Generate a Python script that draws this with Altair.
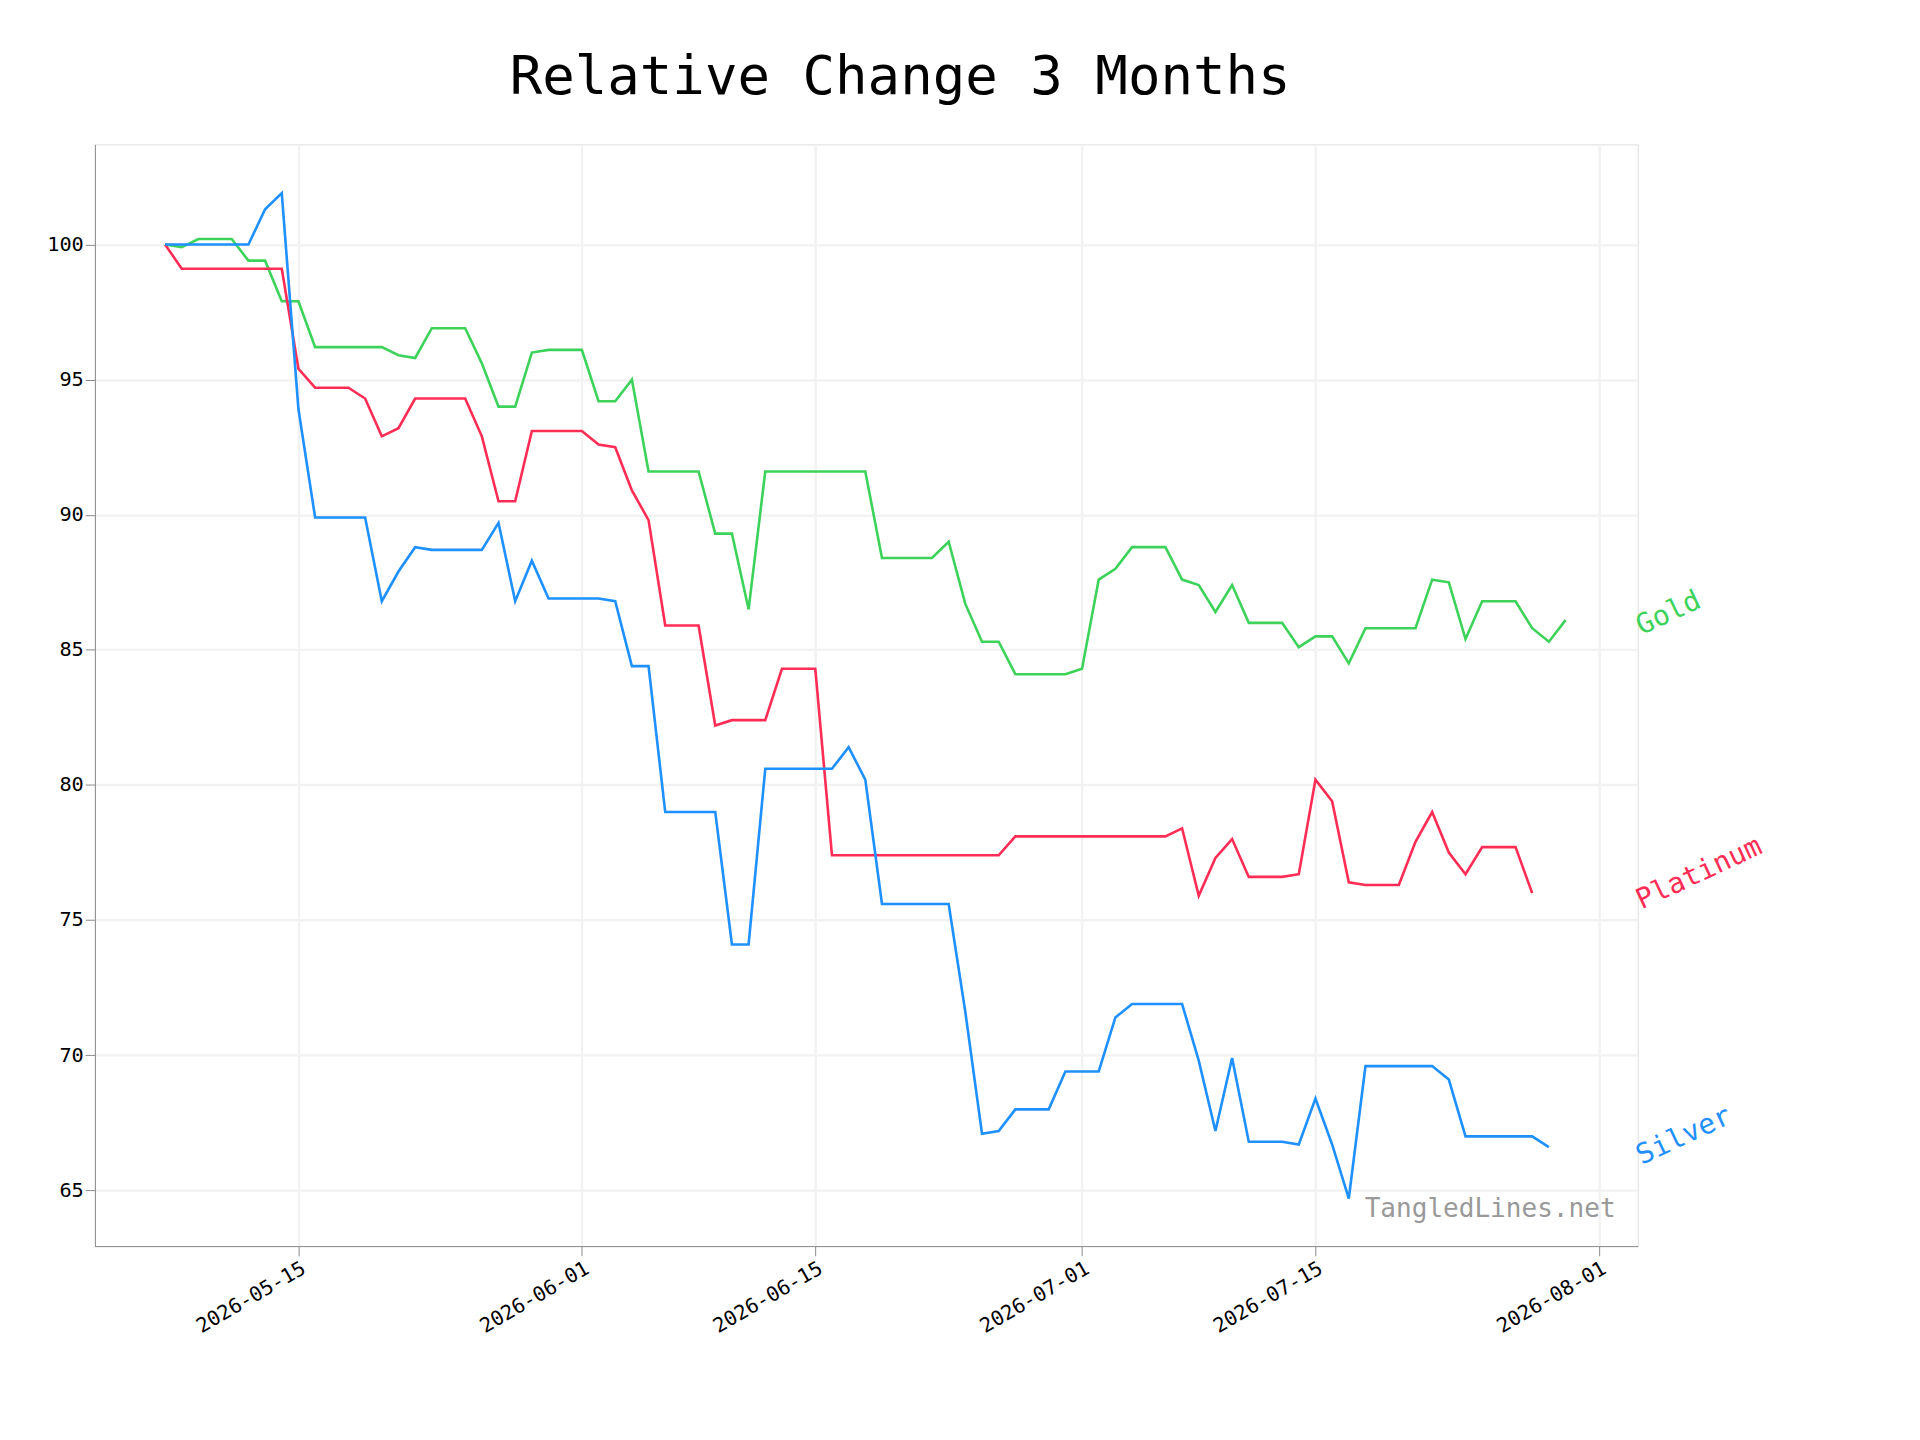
import altair as alt
import pandas as pd

gold = [100,99.9,100.2,100.2,100.2,99.4,99.4,97.9,97.9,96.2,96.2,96.2,96.2,96.2,95.9,95.8,96.9,96.9,96.9,95.6,94.0,94.0,96.0,96.1,96.1,96.1,94.2,94.2,95.0,91.6,91.6,91.6,91.6,89.3,89.3,86.5,91.6,91.6,91.6,91.6,91.6,91.6,91.6,88.4,88.4,88.4,88.4,89.0,86.7,85.3,85.3,84.1,84.1,84.1,84.1,84.3,87.6,88.0,88.8,88.8,88.8,87.6,87.4,86.4,87.4,86.0,86.0,86.0,85.1,85.5,85.5,84.5,85.8,85.8,85.8,85.8,87.6,87.5,85.4,86.8,86.8,86.8,85.8,85.3,86.1]
platinum = [100,99.1,99.1,99.1,99.1,99.1,99.1,99.1,95.4,94.7,94.7,94.7,94.3,92.9,93.2,94.3,94.3,94.3,94.3,92.9,90.5,90.5,93.1,93.1,93.1,93.1,92.6,92.5,90.9,89.8,85.9,85.9,85.9,82.2,82.4,82.4,82.4,84.3,84.3,84.3,77.4,77.4,77.4,77.4,77.4,77.4,77.4,77.4,77.4,77.4,77.4,78.1,78.1,78.1,78.1,78.1,78.1,78.1,78.1,78.1,78.1,78.4,75.9,77.3,78.0,76.6,76.6,76.6,76.7,80.2,79.4,76.4,76.3,76.3,76.3,77.9,79.0,77.5,76.7,77.7,77.7,77.7,76.0]
silver = [100,100,100,100,100,100,101.3,101.9,93.9,89.9,89.9,89.9,89.9,86.8,87.9,88.8,88.7,88.7,88.7,88.7,89.7,86.8,88.3,86.9,86.9,86.9,86.9,86.8,84.4,84.4,79.0,79.0,79.0,79.0,74.1,74.1,80.6,80.6,80.6,80.6,80.6,81.4,80.2,75.6,75.6,75.6,75.6,75.6,71.6,67.1,67.2,68.0,68.0,68.0,69.4,69.4,69.4,71.4,71.9,71.9,71.9,71.9,69.8,67.2,69.9,66.8,66.8,66.8,66.7,68.4,66.7,64.7,69.6,69.6,69.6,69.6,69.6,69.1,67.0,67.0,67.0,67.0,67.0,66.6]

series = {"Gold": gold, "Platinum": platinum, "Silver": silver}
colors = {"Gold": "#3dd35a", "Platinum": "#ff2d55", "Silver": "#1e90ff"}
label_y = {"Gold": 85.35, "Platinum": 75.2, "Silver": 65.75}

rows = []
for name, vals in series.items():
    dates = pd.date_range("2026-05-07", periods=len(vals), freq="D")
    for d, v in zip(dates, vals):
        rows.append({"date": d.strftime("%Y-%m-%d"), "value": v, "metal": name})
df = pd.DataFrame(rows)
lab = pd.DataFrame([{"date": "2026-08-03T17:00:00", "value": label_y[k], "metal": k} for k in series])
wm = pd.DataFrame([{"date": "2026-08-02T00:00:00", "value": 63.8, "t": "TangledLines.net"}])

font = "DejaVu Sans Mono"
xsc = alt.Scale(type="utc", domain=["2026-05-02T19:00:00", "2026-08-03T08:00:00"])
ysc = alt.Scale(domain=[62.94, 103.7], nice=False, zero=False)
cs = alt.Scale(domain=list(colors), range=list(colors.values()))

lines = alt.Chart(df).mark_line(strokeWidth=2.7, clip=True).encode(
    x=alt.X("date:T", scale=xsc, title=None,
            axis=alt.Axis(format="%Y-%m-%d", values=["2026-05-15", "2026-06-01", "2026-06-15", "2026-07-01", "2026-07-15", "2026-08-01"],
                          labelAngle=-30, labelAlign="right", labelBaseline="top", labelFontSize=21,
                          tickSize=10, grid=True, gridColor="#f2f2f2", gridWidth=2.5)),
    y=alt.Y("value:Q", scale=ysc, title=None,
            axis=alt.Axis(values=[65, 70, 75, 80, 85, 90, 95, 100], labelFontSize=21, tickSize=10,
                          grid=True, gridColor="#f2f2f2", gridWidth=2.5)),
    color=alt.Color("metal:N", scale=cs, legend=None),
)
labels = alt.Chart(lab).mark_text(angle=335, align="left", baseline="bottom", fontSize=29, font=font).encode(
    x=alt.X("date:T", scale=xsc), y=alt.Y("value:Q", scale=ysc),
    text="metal:N", color=alt.Color("metal:N", scale=cs, legend=None))
water = alt.Chart(wm).mark_text(align="right", baseline="bottom", fontSize=27, font=font, color="#999999").encode(
    x=alt.X("date:T", scale=xsc), y=alt.Y("value:Q", scale=ysc), text="t:N")

chart = (lines + labels + water).properties(
    width=1598, height=1141,
    title=alt.TitleParams("Relative Change 3 Months", fontSize=56, font=font, fontWeight="normal", offset=40, dx=35),
).configure_view(stroke=None).configure_axis(
    domainColor="black", domainWidth=2.5, tickColor="black", tickWidth=2.5, labelFont=font, labelColor="black", labelPadding=7
).configure(font=font, padding={"left": 40, "top": 20, "right": 150, "bottom": 10})

chart.save("out.html", embed_options={"renderer": "svg", "actions": False})
